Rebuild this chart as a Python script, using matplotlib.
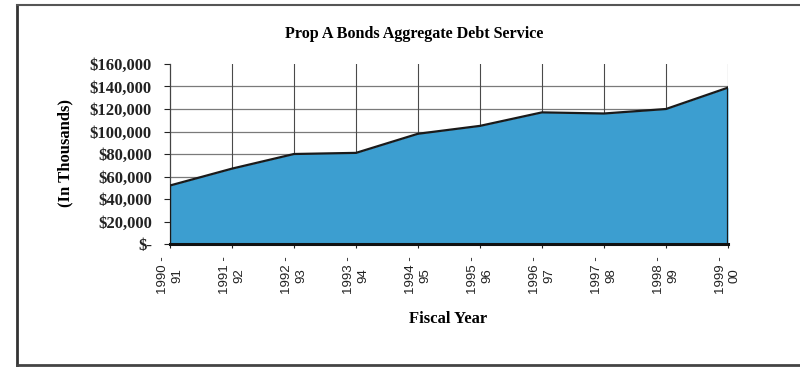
import matplotlib
matplotlib.use('Agg')
import matplotlib.pyplot as plt
import matplotlib.transforms as mtransforms
from matplotlib.ticker import FuncFormatter
import numpy as np

# Fiscal years and aggregate debt service (in thousands of dollars)
YEARS = ['1990 -\n91', '1991 -\n92', '1992 -\n93', '1993 -\n94', '1994 -\n95',
         '1995 -\n96', '1996 -\n97', '1997 -\n98', '1998 -\n99', '1999 -\n00']
DEBT_SERVICE = [52000, 67000, 80000, 81000, 98000, 105000, 117000, 116000, 120000, 139000]
Y_TICKS = [0, 20000, 40000, 60000, 80000, 100000, 120000, 140000, 160000]

FILL_COLOR = '#3c9ed0'
SERIF = ['Liberation Serif', 'DejaVu Serif']
SANS = ['Liberation Sans', 'DejaVu Sans']

plt.rcParams['font.family'] = SERIF

fig = plt.figure(figsize=(8, 3.67), dpi=100)
ax = fig.add_axes([170 / 800, 1 - 244 / 367, 558 / 800, 180 / 367])

x = np.arange(len(YEARS))

# Gridlines sit under the area
for yv in Y_TICKS[1:-1]:
    ax.axhline(yv, color='#7a7a7a', lw=0.9, zorder=1)
for xv in x[1:]:
    ax.axvline(xv, color='#4a4a4a', lw=0.8, zorder=1)

ax.fill_between(x, DEBT_SERVICE, 0, color=FILL_COLOR, zorder=2, lw=0)
ax.plot(x, DEBT_SERVICE, color='#1a1a1a', lw=1.6, zorder=3)
ax.plot([x[0], x[0]], [0, DEBT_SERVICE[0]], color='#1a1a1a', lw=1.6, zorder=3)
ax.plot([x[-1], x[-1]], [0, DEBT_SERVICE[-1]], color='#1a1a1a', lw=1.6, zorder=3)

ax.set_xlim(x[0], x[-1])
ax.set_ylim(0, 160000)
ax.set_yticks(Y_TICKS)
ax.yaxis.set_major_formatter(FuncFormatter(lambda v, p: '$-' if v == 0 else f'${v:,.0f}'))
ax.set_xticks(x)
ax.set_xticklabels(YEARS, rotation=90, ha='center', va='top',
                   multialignment='center', family=SANS, fontsize=9.5)

offset = mtransforms.ScaledTranslation(-6 / 100, 0, fig.dpi_scale_trans)
for lbl in ax.get_xticklabels():
    lbl.set_transform(lbl.get_transform() + offset)

for lbl in ax.get_yticklabels():
    lbl.set_fontweight('bold')
    lbl.set_fontsize(12)

ax.tick_params(axis='y', length=4, width=0.8, pad=9, colors='#222222')
ax.tick_params(axis='x', length=3, width=0.8, pad=6, colors='#222222')

for s in ['top', 'right']:
    ax.spines[s].set_visible(False)
ax.spines['left'].set_color('#444444')
ax.spines['left'].set_linewidth(0.9)
ax.spines['bottom'].set_color('#111111')
ax.spines['bottom'].set_linewidth(2.2)
ax.spines['bottom'].set_zorder(4)

fig.text(414 / 800, 1 - 34 / 367, 'Prop A Bonds Aggregate Debt Service',
         ha='center', va='center', fontsize=11.6, fontweight='bold')
fig.text(65 / 800, 1 - 153 / 367, '(In Thousands)', rotation=90,
         ha='center', va='center', fontsize=12, fontweight='bold')
fig.text(448 / 800, 1 - 319 / 367, 'Fiscal Year',
         ha='center', va='center', fontsize=12, fontweight='bold')

# Outer frame around the chart
fig.add_artist(plt.Line2D([17 / 800, 17 / 800], [1 - 365 / 367, 1 - 5 / 367],
                          transform=fig.transFigure, color='#333333', lw=2))
fig.add_artist(plt.Line2D([17 / 800, 1], [1 - 5 / 367, 1 - 5 / 367],
                          transform=fig.transFigure, color='#555555', lw=1.5))
fig.add_artist(plt.Line2D([17 / 800, 1], [1 - 365 / 367, 1 - 365 / 367],
                          transform=fig.transFigure, color='#444444', lw=2))

fig.savefig('out.png', dpi=100)
